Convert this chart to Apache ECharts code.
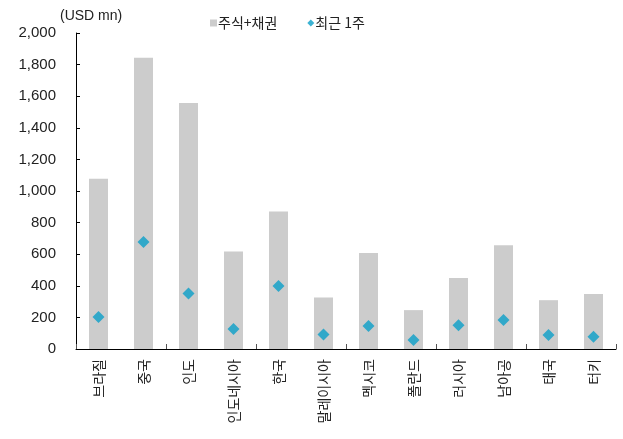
<!DOCTYPE html>
<html><head><meta charset="utf-8">
<script src="https://cdn.jsdelivr.net/npm/echarts@6/dist/echarts.min.js"></script>
<style>html,body{margin:0;padding:0;background:#fff}#c{width:623px;height:439px}</style>
</head><body><div id="c"></div>
<script>
const categories = ['브라질','중국','인도','인도네시아','한국','말레이시아','멕시코','폴란드','러시아','남아공','태국','터키'];
const stockBond = [1078, 1843, 1557, 617, 870, 326, 607, 246, 450, 657, 309, 348];
const recentWeek = [203, 677, 352, 127, 399, 91, 146, 57, 151, 184, 88, 78];
const yTicks = {min: 0, max: 2000, interval: 200};

const font = 'Noto Sans CJK KR';
const latin = 'Liberation Sans';
const chart = echarts.init(document.getElementById('c'));
chart.setOption({
  animation: false,
  textStyle: {fontFamily: font},
  grid: {left: 76, right: 7, top: 33, bottom: 90},
  legend: {
    top: 11, left: 205, itemGap: 30,
    itemWidth: 7, itemHeight: 7,
    textStyle: {fontFamily: font, fontSize: 14, color: '#222', padding: [0,0,0,-4]},
    data: [
      {name: '주식+채권', icon: 'rect'},
      {name: '최근 1주', icon: 'diamond'}
    ]
  },
  xAxis: [{
    type: 'category', data: categories,
    axisLine: {lineStyle: {color: '#000', width: 1}},
    axisTick: {show: true, inside: true, alignWithLabel: true, length: 4, lineStyle: {color: '#555'}},
    axisLabel: {rotate: 90, fontSize: 14, color: '#222', margin: 10, fontFamily: font}
  }, {
    type: 'category', data: categories, position: 'bottom',
    axisLine: {show: false},
    axisTick: {show: true, inside: true, length: 5, lineStyle: {color: '#555'}},
    axisLabel: {show: false}
  }],
  yAxis: {
    type: 'value', min: yTicks.min, max: yTicks.max, interval: yTicks.interval,
    name: '(USD mn)', nameLocation: 'end', nameGap: 10,
    nameTextStyle: {fontSize: 14, color: '#222', align: 'left', padding: [0,0,0,-16], fontFamily: latin},
    splitLine: {show: false},
    axisLine: {show: true, lineStyle: {color: '#000'}},
    axisTick: {show: true, inside: true, length: 4, lineStyle: {color: '#000'}},
    axisLabel: {fontSize: 15, color: '#222', margin: 20, fontFamily: latin,
      formatter: v => v.toLocaleString('en-US')}
  },
  series: [{
    name: '주식+채권', type: 'bar', data: stockBond, barWidth: 19,
    itemStyle: {color: '#cccccc'}
  }, {
    name: '최근 1주', type: 'scatter', data: recentWeek, symbol: 'diamond', symbolSize: 12,
    itemStyle: {color: '#0a9fc8'}, z: 5
  }]
});
</script></body></html>
